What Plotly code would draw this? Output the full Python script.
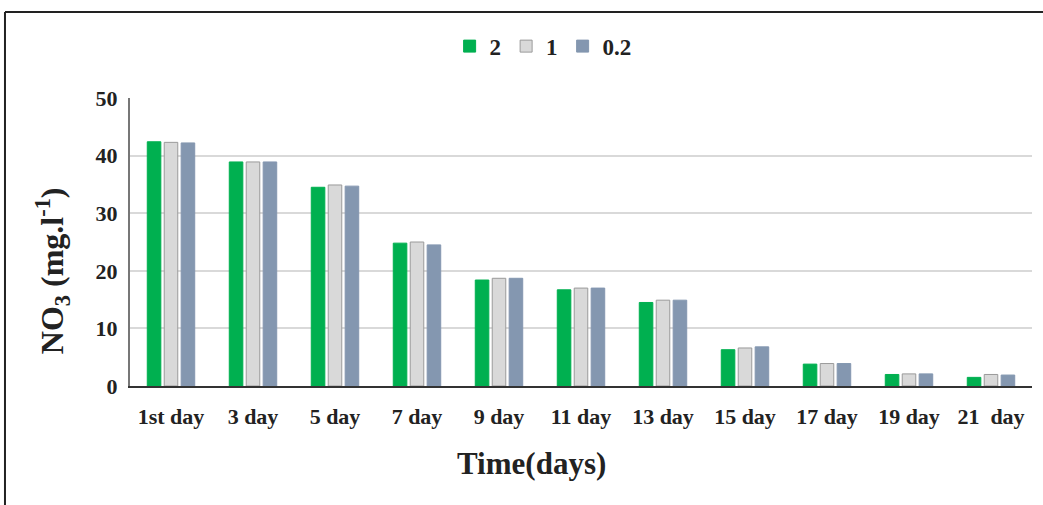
import plotly.graph_objects as go

categories = ["1st day", "3 day", "5 day", "7 day", "9 day", "11 day", "13 day",
              "15 day", "17 day", "19 day", "21  day"]
series_names = ["2", "1", "0.2"]
s2 = [42.4, 38.9, 34.5, 24.8, 18.4, 16.7, 14.5, 6.3, 3.8, 2.0, 1.5]
s1 = [42.3, 38.9, 34.9, 25.0, 18.7, 17.0, 14.9, 6.6, 3.9, 2.1, 2.0]
s02 = [42.2, 38.9, 34.7, 24.5, 18.7, 17.0, 14.9, 6.8, 3.9, 2.1, 1.9]
y_ticks = [0, 10, 20, 30, 40, 50]
x_title = "Time(days)"
y_title = "NO<sub>3</sub> (mg.l<sup>-1</sup>)"

colors = ["#00B050", "#D9D9D9", "#8497B0"]
lines = ["#00B050", "#9A9A9A", "#8497B0"]

fig = go.Figure()
for name, vals, c, lc in zip(series_names, [s2, s1, s02], colors, lines):
    fig.add_trace(go.Bar(x=categories, y=vals, name=name,
                         marker=dict(color=c, line=dict(color=lc, width=1))))

font_family = "Liberation Serif"
fig.update_layout(
    width=1043, height=505,
    margin=dict(l=130, r=11, t=98, b=119),
    paper_bgcolor="white", plot_bgcolor="white",
    barmode="group", bargap=0.38, bargroupgap=0.2,
    font=dict(family=font_family, color="#222222"),
    legend=dict(orientation="h", x=0.458, xanchor="center", y=1.18, yanchor="middle",
                font=dict(size=23, family=font_family, color="#222222", weight="bold"),
                itemwidth=30, tracegroupgap=0),
    xaxis=dict(showline=True, linecolor="#333333", linewidth=2, ticks="",
               ticklabelstandoff=10,
               tickfont=dict(size=22, family=font_family, color="#222222", weight="bold")),
    yaxis=dict(range=[0, 50], tickvals=y_ticks, showline=True, linecolor="#777777", linewidth=2,
               gridcolor="#D9D9D9", gridwidth=1.5, zeroline=False, ticks="",
               ticklabelstandoff=6,
               tickfont=dict(size=22, family=font_family, color="#222222", weight="bold")),
    annotations=[
        dict(text="<b>" + x_title + "</b>", xref="paper", yref="paper", x=0.445, y=-0.27,
             xanchor="center", yanchor="middle", showarrow=False,
             font=dict(size=31, family=font_family, color="#222222")),
        dict(text="<b>" + y_title + "</b>", xref="paper", yref="paper", x=-0.086, y=0.40,
             xanchor="center", yanchor="middle", showarrow=False, textangle=-90,
             font=dict(size=32, family=font_family, color="#222222")),
    ],
    shapes=[
        dict(type="line", xref="paper", yref="paper", x0=-0.1386, x1=1.02, y0=1.2986, y1=1.2986,
             line=dict(color="#222222", width=2)),
        dict(type="line", xref="paper", yref="paper", x0=-0.1386, x1=-0.1386, y0=1.2986, y1=-0.42,
             line=dict(color="#222222", width=2)),
    ],
)

fig.write_html("out.html", config={"displayModeBar": False},
               post_script="document.body.style.margin='0px';")
